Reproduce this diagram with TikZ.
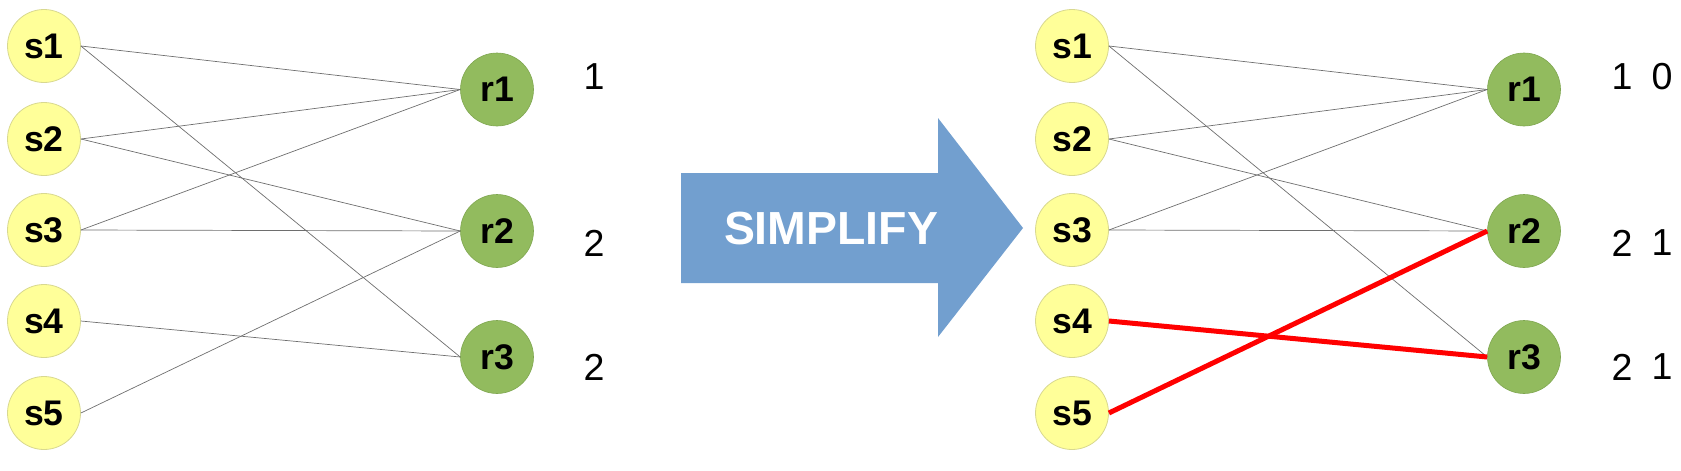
\documentclass[tikz,border=0pt]{standalone}
\usepackage{fontspec}
\setmainfont{Liberation Sans}
\definecolor{syellow}{HTML}{FFFF99}
\definecolor{sborder}{HTML}{D8D890}
\definecolor{rgreen}{HTML}{92BB5E}
\definecolor{rborder}{HTML}{7FA650}
\definecolor{arrowblue}{HTML}{729FCF}
\definecolor{edgegray}{HTML}{6E6E6E}
\tikzset{
  snode/.style={circle, fill=syellow, draw=sborder, line width=0.4pt, minimum size=36.5pt, inner sep=0pt, font=\fontsize{17.8}{17.8}\selectfont\bfseries},
  rnode/.style={circle, fill=rgreen, draw=rborder, line width=0.3pt, minimum size=36.5pt, inner sep=0pt, font=\fontsize{17.8}{17.8}\selectfont\bfseries},
  numlabel/.style={inner sep=0pt, font=\fontsize{18.8}{18.8}\selectfont},
  thinedge/.style={draw=edgegray, line width=0.35pt},
  redge/.style={draw=red, line width=2.5pt},
}
\begin{document}
\begin{tikzpicture}[x=0.5pt,y=-0.5pt]
\useasboundingbox (0,0) rectangle (1681,471);
% left graph
\node[snode] (ls1) at (44,46) {s1};
\node[snode] (ls2) at (44,139) {s2};
\node[snode] (ls3) at (44,230) {s3};
\node[snode] (ls4) at (44,321) {s4};
\node[snode] (ls5) at (44,413) {s5};
\node[rnode] (lr1) at (497,89.5) {r1};
\node[rnode] (lr2) at (497,231) {r2};
\node[rnode] (lr3) at (497,357) {r3};
\draw[thinedge] (ls1.east) -- (lr1.west);
\draw[thinedge] (ls1.east) -- (lr3.west);
\draw[thinedge] (ls2.east) -- (lr1.west);
\draw[thinedge] (ls2.east) -- (lr2.west);
\draw[thinedge] (ls3.east) -- (lr1.west);
\draw[thinedge] (ls3.east) -- (lr2.west);
\draw[thinedge] (ls4.east) -- (lr3.west);
\draw[thinedge] (ls5.east) -- (lr2.west);
\node[numlabel] (ln1) at (594,76.5) {1};
\node[numlabel] (ln2) at (594,243) {2};
\node[numlabel] (ln3) at (594,367) {2};
% arrow
\fill[arrowblue] (681,173) -- (938,173) -- (938,118) -- (1023,228) -- (938,337) -- (938,283) -- (681,283) -- cycle;
\node[inner sep=0pt, text=white, font=\fontsize{23.2}{23.2}\selectfont\bfseries] (simplify) at (831,228.5) {SIMPLIFY};
% right graph
\node[snode] (rs1) at (1072,46) {s1};
\node[snode] (rs2) at (1072,139) {s2};
\node[snode] (rs3) at (1072,230) {s3};
\node[snode] (rs4) at (1072,321) {s4};
\node[snode] (rs5) at (1072,413) {s5};
\node[rnode] (rr1) at (1524,89.5) {r1};
\node[rnode] (rr2) at (1524,231) {r2};
\node[rnode] (rr3) at (1524,357) {r3};
\draw[thinedge] (rs1.east) -- (rr1.west);
\draw[thinedge] (rs1.east) -- (rr3.west);
\draw[thinedge] (rs2.east) -- (rr1.west);
\draw[thinedge] (rs2.east) -- (rr2.west);
\draw[thinedge] (rs3.east) -- (rr1.west);
\draw[thinedge] (rs3.east) -- (rr2.west);
\draw[redge] (rs4.east) -- (rr3.west);
\draw[redge] (rs5.east) -- (rr2.west);
\node[numlabel] (rn1a) at (1622,76.5) {1};
\node[numlabel] (rn1b) at (1662,76.5) {0};
\node[numlabel] (rn2a) at (1622,243) {2};
\node[numlabel] (rn2b) at (1662,243) {1};
\node[numlabel] (rn3a) at (1622,367) {2};
\node[numlabel] (rn3b) at (1662,367) {1};
\end{tikzpicture}
\end{document}
